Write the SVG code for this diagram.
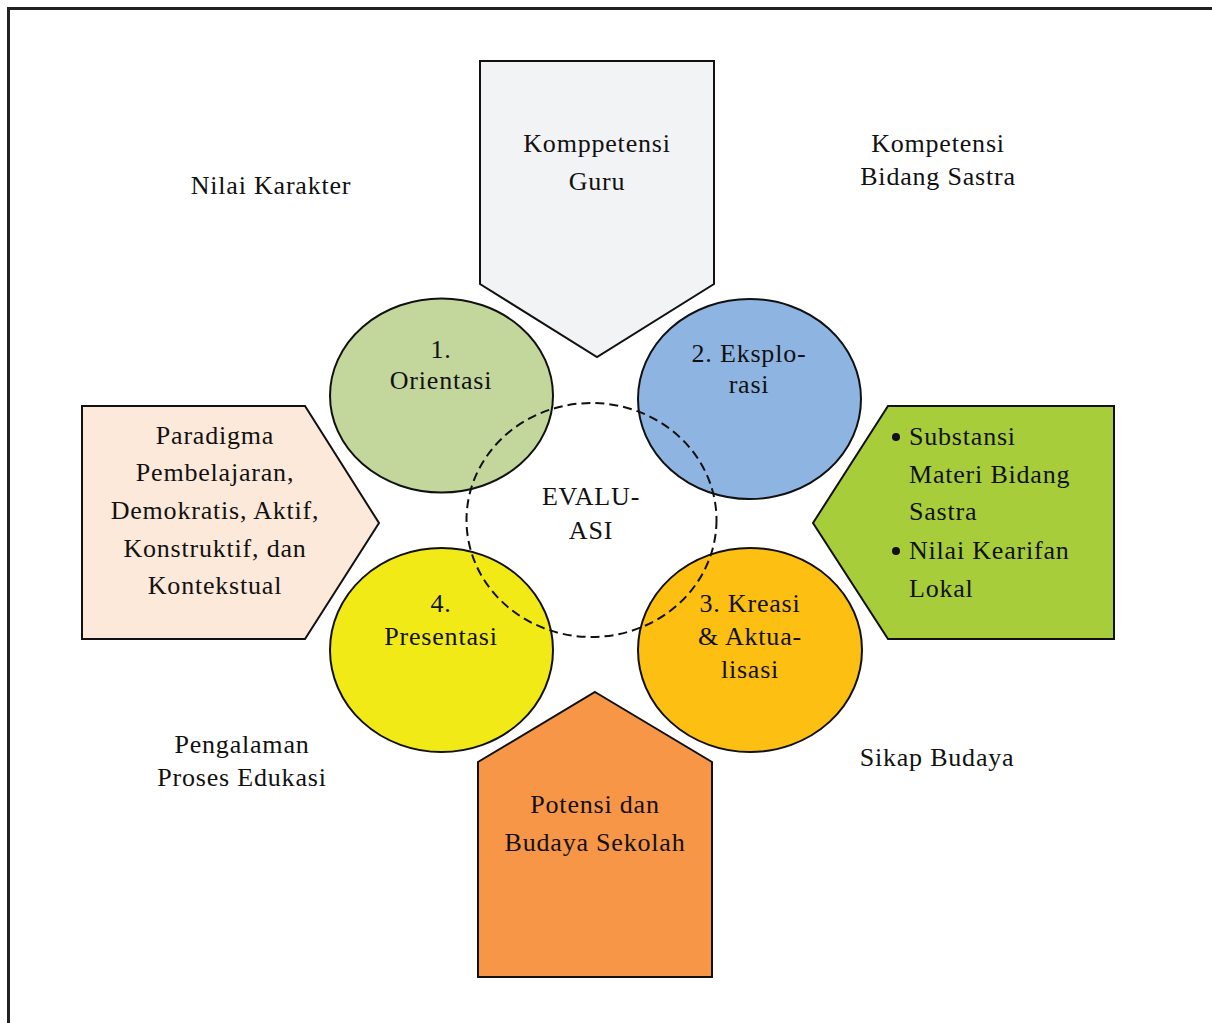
<svg xmlns="http://www.w3.org/2000/svg" width="1212" height="1023" viewBox="0 0 1212 1023">
<style>
.t{font-family:"Liberation Serif","Times New Roman",serif;font-size:26px;letter-spacing:0.8px;fill:#111;text-anchor:middle}
.l{text-anchor:start}
.s{stroke:#111;stroke-width:2;stroke-linejoin:miter}
</style>
<rect x="0" y="0" width="1212" height="1023" fill="#fff"/>
<path d="M8.5 1023 V8.5 H1212" fill="none" stroke="#222" stroke-width="3"/>
<g id="top-komppetensi-guru">
<polygon class="s" points="480,61 714,61 714,284 597,357 480,284" fill="#F2F3F5"/>
<text class="t" x="597" y="152">Komppetensi</text>
<text class="t" x="597" y="190">Guru</text>
</g>
<g id="left-paradigma">
<polygon class="s" points="82,406 305,406 379,523 305,639 82,639" fill="#FDE9DA"/>
<text class="t" x="215" y="444">Paradigma</text>
<text class="t" x="215" y="481">Pembelajaran,</text>
<text class="t" x="215" y="519">Demokratis, Aktif,</text>
<text class="t" x="215" y="557">Konstruktif, dan</text>
<text class="t" x="215" y="594">Kontekstual</text>
</g>
<g id="right-substansi">
<polygon class="s" points="888,406 1114,406 1114,639 888,639 813,523" fill="#A7CD3A"/>
<circle cx="896" cy="437" r="4" fill="#111"/>
<circle cx="896" cy="551" r="4" fill="#111"/>
<text class="t l" x="909" y="445">Substansi</text>
<text class="t l" x="909" y="483">Materi Bidang</text>
<text class="t l" x="909" y="520">Sastra</text>
<text class="t l" x="909" y="559">Nilai Kearifan</text>
<text class="t l" x="909" y="597">Lokal</text>
</g>
<g id="bottom-potensi">
<polygon class="s" points="595,692 712,762 712,977 478,977 478,762" fill="#F79646"/>
<text class="t" x="595" y="813">Potensi dan</text>
<text class="t" x="595" y="851">Budaya Sekolah</text>
</g>
<g id="c1-orientasi">
<ellipse class="s" cx="441.5" cy="395.5" rx="111.5" ry="97" fill="#C3D69B"/>
<text class="t" x="441" y="358">1.</text>
<text class="t" x="441" y="389">Orientasi</text>
</g>
<g id="c2-eksplorasi">
<ellipse class="s" cx="749.5" cy="399" rx="111.5" ry="100" fill="#8EB4E2"/>
<text class="t" x="749" y="362">2. Eksplo-</text>
<text class="t" x="749" y="393">rasi</text>
</g>
<g id="c4-presentasi">
<ellipse class="s" cx="441.5" cy="650" rx="111.5" ry="102" fill="#F2EA17"/>
<text class="t" x="441" y="612">4.</text>
<text class="t" x="441" y="645">Presentasi</text>
</g>
<g id="c3-kreasi">
<ellipse class="s" cx="750" cy="650" rx="112" ry="102" fill="#FCBF12"/>
<text class="t" x="750" y="612">3. Kreasi</text>
<text class="t" x="750" y="645">&amp; Aktua-</text>
<text class="t" x="750" y="678">lisasi</text>
</g>
<g id="evaluasi">
<ellipse cx="591.5" cy="520" rx="125" ry="117" fill="none" stroke="#111" stroke-width="2" stroke-dasharray="9,5"/>
<text class="t" x="591" y="505">EVALU-</text>
<text class="t" x="591" y="539">ASI</text>
</g>
<g id="labels">
<text class="t" x="271" y="194">Nilai Karakter</text>
<text class="t" x="938" y="152">Kompetensi</text>
<text class="t" x="938" y="185">Bidang Sastra</text>
<text class="t" x="242" y="753">Pengalaman</text>
<text class="t" x="242" y="786">Proses Edukasi</text>
<text class="t" x="937" y="766">Sikap Budaya</text>
</g>
<g id="connectors"></g>
</svg>
